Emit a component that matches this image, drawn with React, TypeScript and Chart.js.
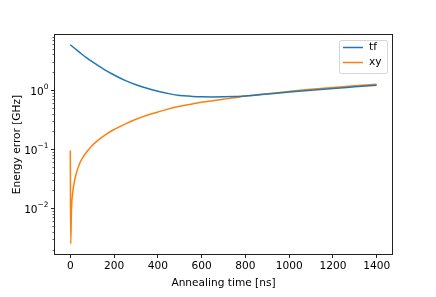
import React, { useEffect, useRef } from "react";
import { Chart, registerables } from "chart.js";

Chart.register(...registerables);

const tfTimes = [0, 25, 50, 75, 100, 150, 200, 250, 300, 350, 400, 450, 500, 550, 600, 650, 700, 750, 800, 900, 1000, 1100, 1200, 1300, 1400];
const tfValues = [5.85, 4.9, 4.12, 3.5, 3.02, 2.29, 1.8, 1.46, 1.23, 1.07, 0.955, 0.87, 0.81, 0.785, 0.767, 0.764, 0.768, 0.777, 0.79, 0.855, 0.925, 0.995, 1.065, 1.135, 1.21];

const xyTimes = [0, 2, 5, 10, 20, 30, 45, 60, 80, 100, 130, 160, 200, 250, 300, 350, 400, 450, 500, 550, 600, 650, 700, 750, 800, 850, 900, 1000, 1100, 1200, 1300, 1400];
const xyValues = [0.095, 0.0025, 0.009, 0.017, 0.03, 0.042, 0.06, 0.075, 0.095, 0.115, 0.145, 0.175, 0.215, 0.265, 0.32, 0.375, 0.425, 0.48, 0.53, 0.575, 0.62, 0.66, 0.7, 0.74, 0.79, 0.83, 0.87, 0.95, 1.03, 1.1, 1.18, 1.25];

const xTicks = [0, 200, 400, 600, 800, 1000, 1200, 1400];
const yMajorExponents = [-2, -1, 0];
const seriesLabels = ["tf", "xy"];
const seriesColors = ["#1f77b4", "#ff7f0e"];
const xTitle = "Annealing time [ns]";
const yTitle = "Energy error [GHz]";

const FONT = "DejaVu Sans";
const FS = 10.6;

const decorPlugin = {
  id: "decor",
  afterDatasetsDraw(chart: any) {
    const ctx = chart.ctx;
    const ca = chart.chartArea;
    const y = chart.scales.y;
    ctx.save();
    // spines
    ctx.strokeStyle = "#222";
    ctx.lineWidth = 1;
    ctx.strokeRect(Math.round(ca.left) - 0.5, Math.round(ca.top) - 0.5, Math.round(ca.right - ca.left) + 1, Math.round(ca.bottom - ca.top) + 1);
    // y ticks
    const left = Math.round(ca.left) - 0.5;
    for (let e = -4; e <= 1; e++) {
      for (let k = 1; k <= 9; k++) {
        const v = k * Math.pow(10, e);
        if (v < y.min || v > y.max) continue;
        const py = Math.round(y.getPixelForValue(v)) + 0.5;
        const len = k === 1 ? 3.5 : 2;
        ctx.beginPath();
        ctx.lineWidth = k === 1 ? 1 : 0.7;
        ctx.moveTo(left, py);
        ctx.lineTo(left - len, py);
        ctx.stroke();
      }
    }
    // y labels
    ctx.fillStyle = "#000";
    for (const e of yMajorExponents) {
      const py = y.getPixelForValue(Math.pow(10, e));
      const exp = e === 0 ? "0" : "\u2212" + String(-e);
      ctx.font = `7.4px "${FONT}"`;
      const ew = ctx.measureText(exp).width;
      ctx.textBaseline = "alphabetic";
      ctx.textAlign = "right";
      const rx = left - 6;
      ctx.fillText(exp, rx, py - 1);
      ctx.font = `${FS}px "${FONT}"`;
      ctx.fillText("10", rx - ew, py + 5);
    }
    // axis titles
    ctx.font = `${FS}px "${FONT}"`;
    ctx.textAlign = "center";
    ctx.textBaseline = "middle";
    ctx.fillText(xTitle, (ca.left + ca.right) / 2, 283);
    ctx.save();
    ctx.translate(17, (ca.top + ca.bottom) / 2);
    ctx.rotate(-Math.PI / 2);
    ctx.fillText(yTitle, 0, 0);
    ctx.restore();
    // legend
    const lx = 339.5, ly = 40.5, lw = 48, lh = 33;
    ctx.beginPath();
    const r = 2;
    ctx.moveTo(lx + r, ly);
    ctx.lineTo(lx + lw - r, ly);
    ctx.arcTo(lx + lw, ly, lx + lw, ly + r, r);
    ctx.lineTo(lx + lw, ly + lh - r);
    ctx.arcTo(lx + lw, ly + lh, lx + lw - r, ly + lh, r);
    ctx.lineTo(lx + r, ly + lh);
    ctx.arcTo(lx, ly + lh, lx, ly + lh - r, r);
    ctx.lineTo(lx, ly + r);
    ctx.arcTo(lx, ly, lx + r, ly, r);
    ctx.closePath();
    ctx.fillStyle = "rgba(255,255,255,0.8)";
    ctx.fill();
    ctx.strokeStyle = "rgba(204,204,204,0.8)";
    ctx.lineWidth = 1;
    ctx.stroke();
    const rows = [47.5, 62.5];
    seriesLabels.forEach((lab, i) => {
      ctx.strokeStyle = seriesColors[i];
      ctx.lineWidth = 1.5;
      ctx.beginPath();
      ctx.moveTo(343, rows[i]);
      ctx.lineTo(363, rows[i]);
      ctx.stroke();
      ctx.fillStyle = "#000";
      ctx.textAlign = "left";
      ctx.textBaseline = "middle";
      ctx.font = `${FS}px "${FONT}"`;
      ctx.fillText(lab, 369, rows[i]);
    });
    ctx.restore();
  },
};

export default function App() {
  const ref = useRef<HTMLCanvasElement>(null);
  useEffect(() => {
    if (!ref.current) return;
    const chart = new Chart(ref.current, {
      type: "line",
      data: {
        datasets: [
          {
            label: seriesLabels[0],
            data: tfTimes.map((t, i) => ({ x: t, y: tfValues[i] })),
            borderColor: seriesColors[0],
            borderWidth: 1.5,
            pointRadius: 0,
            fill: false,
            cubicInterpolationMode: "monotone",
          },
          {
            label: seriesLabels[1],
            data: xyTimes.map((t, i) => ({ x: t, y: xyValues[i] })),
            borderColor: seriesColors[1],
            borderWidth: 1.5,
            pointRadius: 0,
            fill: false,
            cubicInterpolationMode: "monotone",
          },
        ],
      },
      options: {
        responsive: false,
        maintainAspectRatio: false,
        animation: false,
        layout: { padding: { left: 55, right: 44, top: 35, bottom: 0 } },
        plugins: { legend: { display: false }, tooltip: { enabled: false } },
        scales: {
          x: {
            type: "linear",
            min: -70,
            max: 1470,
            afterFit: (s: any) => {
              s.height = 43;
            },
            afterBuildTicks: (s: any) => {
              s.ticks = xTicks.map((v) => ({ value: v }));
            },
            border: { display: false },
            grid: { drawOnChartArea: false, tickLength: 4, color: "#222", lineWidth: 1 },
            ticks: {
              font: { family: FONT, size: FS },
              color: "#000",
              padding: 2,
              maxRotation: 0,
              autoSkip: false,
              callback: (v: any) => String(v),
            },
          },
          y: {
            type: "logarithmic",
            display: false,
            min: 0.00168,
            max: 8.55,
          },
        },
      },
      plugins: [decorPlugin],
    } as any);
    return () => chart.destroy();
  }, []);
  return (
    <div style={{ position: "absolute", left: 0, top: 0, width: 436, height: 297, background: "#fff" }}>
      <canvas ref={ref} width={436} height={297} style={{ display: "block" }} />
    </div>
  );
}
